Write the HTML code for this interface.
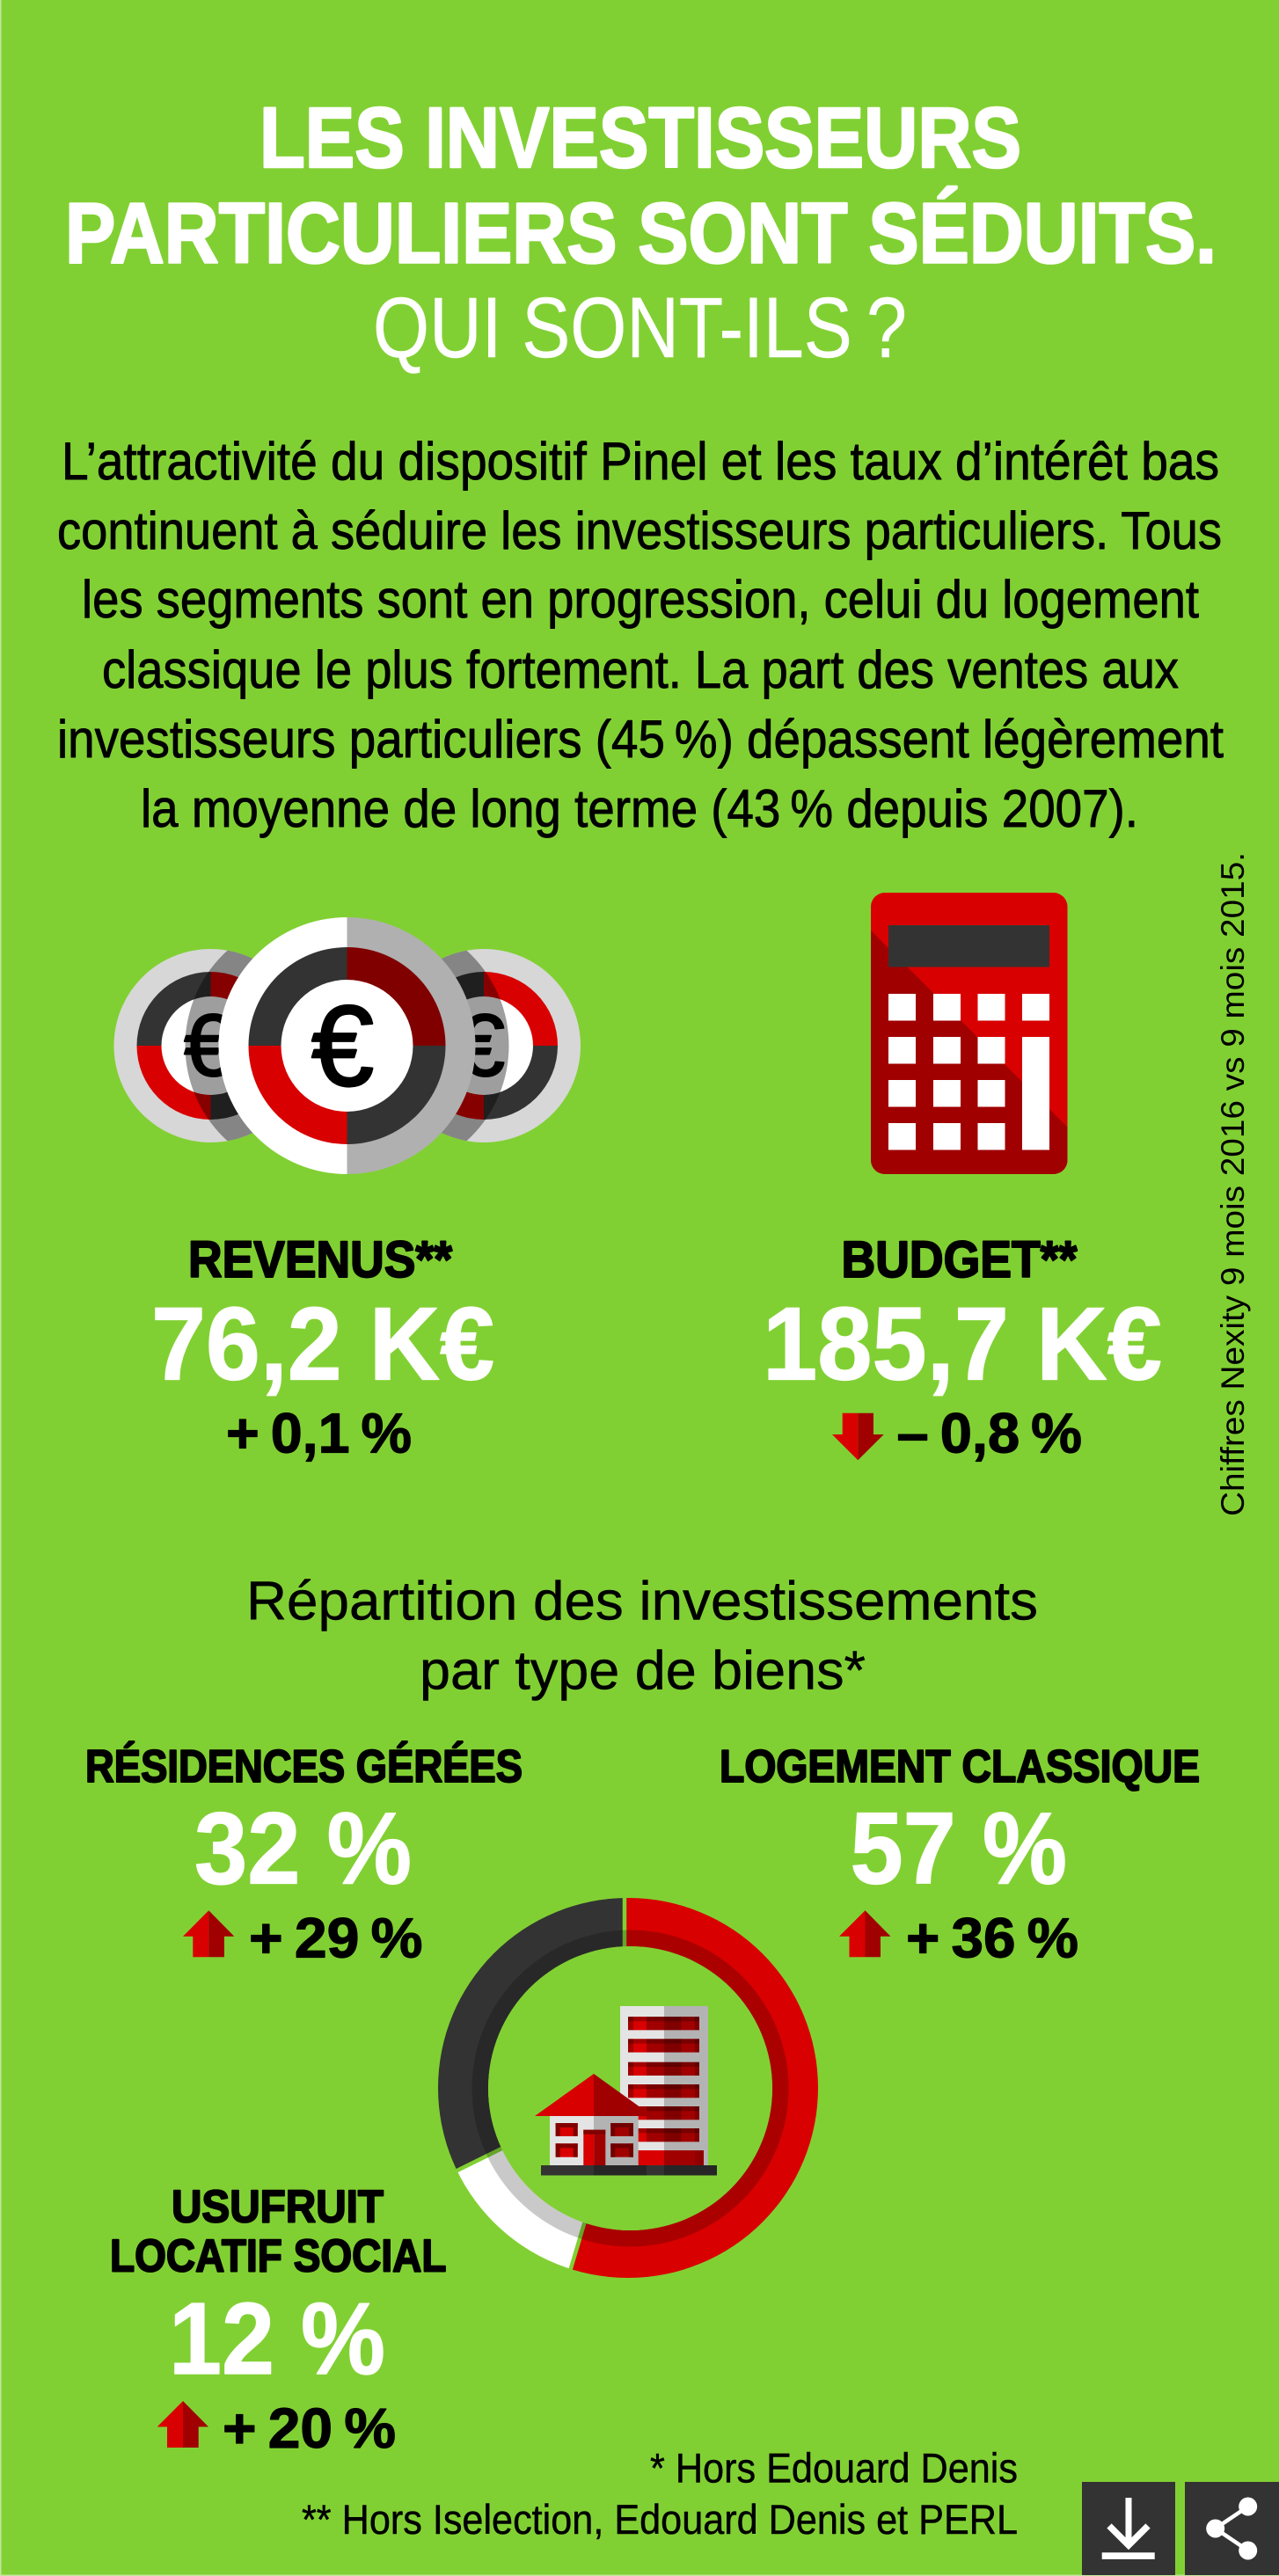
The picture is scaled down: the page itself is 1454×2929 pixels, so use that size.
<!DOCTYPE html>
<html lang="fr">
<head>
<meta charset="utf-8">
<title>Les investisseurs particuliers sont séduits</title>
<style>
html,body{margin:0;padding:0;background:#81d033;}
svg{display:block;}
text{font-family:"Liberation Sans","DejaVu Sans",sans-serif;stroke-linejoin:round;paint-order:stroke;}
.b{font-weight:700;}
.w{fill:#fff;stroke:#fff;}
.k{fill:#000;stroke:#000;}
.s0{stroke-width:.5px;}
.s1{stroke-width:1.2px;}
.s2{stroke-width:2px;}
.s3{stroke-width:2.6px;}
.s4{stroke-width:.9px;}
</style>
</head>
<body>
<svg xmlns="http://www.w3.org/2000/svg" width="1454" height="2929" viewBox="0 0 1454 2929">
<defs>
  <clipPath id="clip-left-coin"><circle cx="239.5" cy="1189" r="110"/></clipPath>
  <clipPath id="clip-right-coin"><circle cx="550" cy="1189" r="110"/></clipPath>
  <clipPath id="clip-calc"><rect x="990" y="1015" width="223.5" height="320" rx="16"/></clipPath>
  <g id="tower-row">
    <rect x="714" y="0" width="6" height="15.3" fill="#a00000"/>
    <rect x="720" y="0" width="15" height="15.3" fill="#d80000"/>
    <rect x="735" y="0" width="20" height="15.3" fill="#a00000"/>
    <rect x="755" y="0" width="19.5" height="15.3" fill="#800000"/>
    <rect x="774.5" y="0" width="15.5" height="15.3" fill="#a00000"/>
    <rect x="790" y="0" width="5" height="15.3" fill="#800000"/>
    <rect x="714" y="0" width="81" height="5.3" fill="#000" fill-opacity=".25"/>
  </g>
</defs>

<rect width="1454" height="2929" fill="#81d033"/>
<rect x="0" y="0" width="1.5" height="2929" fill="#c4e69c"/>
<rect x="0" y="2927.5" width="1454" height="1.5" fill="#c4e69c"/>

<!-- Title -->
<g>
  <text class="b w s3" x="295" y="190" font-size="97" textLength="866" lengthAdjust="spacingAndGlyphs">LES INVESTISSEURS</text>
  <text class="b w s3" x="74" y="298.5" font-size="97" textLength="1309" lengthAdjust="spacingAndGlyphs">PARTICULIERS SONT SÉDUITS.</text>
  <text class="w s0" x="424" y="406" font-size="97" textLength="607" lengthAdjust="spacingAndGlyphs">QUI SONT-ILS&#8201;?</text>
</g>

<!-- Intro -->
<g font-size="60">
  <text class="k s4" x="70" y="545" textLength="1316" lengthAdjust="spacingAndGlyphs">L’attractivité du dispositif Pinel et les taux d’intérêt bas</text>
  <text class="k s4" x="65" y="624" textLength="1324" lengthAdjust="spacingAndGlyphs">continuent à séduire les investisseurs particuliers. Tous</text>
  <text class="k s4" x="93" y="702" textLength="1270" lengthAdjust="spacingAndGlyphs">les segments sont en progression, celui du logement</text>
  <text class="k s4" x="116" y="782" textLength="1224" lengthAdjust="spacingAndGlyphs">classique le plus fortement. La part des ventes aux</text>
  <text class="k s4" x="65" y="861" textLength="1326" lengthAdjust="spacingAndGlyphs">investisseurs particuliers (45&#8201;%) dépassent légèrement</text>
  <text class="k s4" x="160" y="940" textLength="1134" lengthAdjust="spacingAndGlyphs">la moyenne de long terme (43&#8201;% depuis 2007).</text>
</g>

<!-- Source rotated -->
<text class="k" style="stroke-width:0" font-size="37" transform="translate(1414 1724) rotate(-90)" x="0" y="0" textLength="755" lengthAdjust="spacingAndGlyphs">Chiffres Nexity 9 mois 2016 vs 9 mois 2015.</text>

<!-- Coins icon -->
<g>
  <g>
    <circle cx="239.5" cy="1189" r="110" fill="#d7d7d7"/>
    <path d="M239.5 1189L155.5 1189A84 84 0 0 1 239.5 1105Z" fill="#333"/>
    <path d="M239.5 1189L239.5 1105A84 84 0 0 1 323.5 1189Z" fill="#d80000"/>
    <path d="M239.5 1189L323.5 1189A84 84 0 0 1 239.5 1273Z" fill="#333"/>
    <path d="M239.5 1189L239.5 1273A84 84 0 0 1 155.5 1189Z" fill="#d80000"/>
    <circle cx="239.5" cy="1189" r="56" fill="#fff"/>
    <text x="209" y="1223" font-size="100" textLength="56" lengthAdjust="spacingAndGlyphs" class="k s2">€</text>
    <circle cx="356.5" cy="1189" r="146" fill="#000" fill-opacity=".38" clip-path="url(#clip-left-coin)"/>
  </g>
  <g>
    <circle cx="550" cy="1189" r="110" fill="#d7d7d7"/>
    <path d="M550 1189L466 1189A84 84 0 0 1 550 1105Z" fill="#333"/>
    <path d="M550 1189L550 1105A84 84 0 0 1 634 1189Z" fill="#d80000"/>
    <path d="M550 1189L634 1189A84 84 0 0 1 550 1273Z" fill="#333"/>
    <path d="M550 1189L550 1273A84 84 0 0 1 466 1189Z" fill="#d80000"/>
    <circle cx="550" cy="1189" r="56" fill="#fff"/>
    <text x="518" y="1223" font-size="100" textLength="56" lengthAdjust="spacingAndGlyphs" class="k s2">€</text>
    <circle cx="432.5" cy="1189" r="146" fill="#000" fill-opacity=".38" clip-path="url(#clip-right-coin)"/>
  </g>
  <g>
    <path d="M394.5 1043A146 146 0 0 0 394.5 1335Z" fill="#fff"/>
    <path d="M394.5 1043A146 146 0 0 1 394.5 1335Z" fill="#b0b0b0"/>
    <path d="M394.5 1189L282.5 1189A112 112 0 0 1 394.5 1077Z" fill="#333"/>
    <path d="M394.5 1189L394.5 1077A112 112 0 0 1 506.5 1189Z" fill="#800000"/>
    <path d="M394.5 1189L506.5 1189A112 112 0 0 1 394.5 1301Z" fill="#333"/>
    <path d="M394.5 1189L394.5 1301A112 112 0 0 1 282.5 1189Z" fill="#d80000"/>
    <circle cx="394.5" cy="1189" r="75" fill="#fff"/>
    <text x="354" y="1234" font-size="130" textLength="71" lengthAdjust="spacingAndGlyphs" class="k s3">€</text>
  </g>
</g>

<!-- Calculator icon -->
<g>
  <rect x="990" y="1015" width="223.5" height="320" rx="16" fill="#d80000"/>
  <polygon points="990,1058 1213.5,1281.5 1213.5,1335 990,1335" fill="#a00000" clip-path="url(#clip-calc)"/>
  <rect x="1010" y="1052" width="183" height="47.5" fill="#333"/>
  <g fill="#fff">
    <rect x="1010" y="1130" width="31" height="30.5"/><rect x="1061" y="1130" width="31" height="30.5"/><rect x="1111.5" y="1130" width="31" height="30.5"/><rect x="1162" y="1130" width="31" height="30.5"/>
    <rect x="1010" y="1179" width="31" height="30.5"/><rect x="1061" y="1179" width="31" height="30.5"/><rect x="1111.5" y="1179" width="31" height="30.5"/>
    <rect x="1010" y="1228" width="31" height="30.5"/><rect x="1061" y="1228" width="31" height="30.5"/><rect x="1111.5" y="1228" width="31" height="30.5"/>
    <rect x="1010" y="1277" width="31" height="30.5"/><rect x="1061" y="1277" width="31" height="30.5"/><rect x="1111.5" y="1277" width="31" height="30.5"/>
    <rect x="1162" y="1179" width="31" height="128.5"/>
  </g>
</g>

<!-- KPIs -->
<text class="b k s2" x="214" y="1452" font-size="58" textLength="300" lengthAdjust="spacingAndGlyphs">REVENUS**</text>
<text class="b w s1" x="172" y="1568.5" font-size="118" textLength="390" lengthAdjust="spacingAndGlyphs">76,2 K€</text>
<text class="b k s1" x="257" y="1651.5" font-size="64" textLength="211" lengthAdjust="spacingAndGlyphs">+&#8201;0,1&#8201;%</text>

<text class="b k s2" x="956.5" y="1452" font-size="58" textLength="268" lengthAdjust="spacingAndGlyphs">BUDGET**</text>
<text class="b w s1" x="867" y="1568.5" font-size="118" textLength="454" lengthAdjust="spacingAndGlyphs">185,7 K€</text>
<text class="b k s1" x="1019.5" y="1651.5" font-size="64" textLength="210.5" lengthAdjust="spacingAndGlyphs">–&#8201;0,8&#8201;%</text>
<g>
  <polygon points="957.7,1606.7 975.3,1606.7 975.3,1660.3 946,1631 957.7,1631" fill="#d80000"/>
  <polygon points="975.3,1606.7 993,1606.7 993,1631 1004.7,1631 975.3,1660.3" fill="#a00000"/>
</g>

<!-- Section title -->
<text class="k s0" x="280" y="1841.5" font-size="62" textLength="900" lengthAdjust="spacingAndGlyphs">Répartition des investissements</text>
<text class="k s0" x="477" y="1920.5" font-size="62" textLength="507" lengthAdjust="spacingAndGlyphs">par type de biens*</text>

<!-- Segment labels -->
<text class="b k s2" x="97" y="2026" font-size="52" textLength="497" lengthAdjust="spacingAndGlyphs">RÉSIDENCES GÉRÉES</text>
<text class="b w s1" x="221" y="2141.5" font-size="116" textLength="247" lengthAdjust="spacingAndGlyphs">32 %</text>
<text class="b k s1" x="283" y="2225.5" font-size="64" textLength="197.5" lengthAdjust="spacingAndGlyphs">+&#8201;29&#8201;%</text>
<g>
  <polygon points="237.3,2172.3 237.3,2225.3 219.3,2225.3 219.3,2201.7 208,2201.7" fill="#d80000"/>
  <polygon points="237.3,2172.3 266.3,2201.7 255,2201.7 255,2225.3 237.3,2225.3" fill="#a00000"/>
</g>

<text class="b k s2" x="818" y="2026" font-size="52" textLength="546" lengthAdjust="spacingAndGlyphs">LOGEMENT CLASSIQUE</text>
<text class="b w s1" x="966.5" y="2141.5" font-size="116" textLength="246.5" lengthAdjust="spacingAndGlyphs">57 %</text>
<text class="b k s1" x="1030" y="2225.5" font-size="64" textLength="196" lengthAdjust="spacingAndGlyphs">+&#8201;36&#8201;%</text>
<g>
  <polygon points="983.5,2172.3 983.5,2225.3 965.5,2225.3 965.5,2201.7 954,2201.7" fill="#d80000"/>
  <polygon points="983.5,2172.3 1012.5,2201.7 1001,2201.7 1001,2225.3 983.5,2225.3" fill="#a00000"/>
</g>

<text class="b k s2" x="195" y="2526.5" font-size="52" textLength="241" lengthAdjust="spacingAndGlyphs">USUFRUIT</text>
<text class="b k s2" x="125" y="2582.5" font-size="52" textLength="382.5" lengthAdjust="spacingAndGlyphs">LOCATIF SOCIAL</text>
<text class="b w s1" x="192" y="2699" font-size="116" textLength="246" lengthAdjust="spacingAndGlyphs">12 %</text>
<text class="b k s1" x="253" y="2783" font-size="64" textLength="197" lengthAdjust="spacingAndGlyphs">+&#8201;20&#8201;%</text>
<g>
  <polygon points="208,2730 208,2783 190,2783 190,2759.4 178.7,2759.4" fill="#d80000"/>
  <polygon points="208,2730 237,2759.4 225.7,2759.4 225.7,2783 208,2783" fill="#a00000"/>
</g>

<!-- Donut -->
<g id="donut"></g>

<!-- Buildings icon -->
<g>
  <g>
    <rect x="705" y="2281" width="50" height="181" fill="#e4e4e4"/>
    <rect x="755" y="2281" width="50" height="181" fill="#b3b3b3"/>
    <use href="#tower-row" y="2293"/>
    <use href="#tower-row" y="2318.3"/>
    <use href="#tower-row" y="2344.7"/>
    <use href="#tower-row" y="2370"/>
    <use href="#tower-row" y="2395"/>
    <use href="#tower-row" y="2420"/>
    <rect x="705" y="2445" width="50" height="17" fill="#d80000"/>
    <rect x="755" y="2445" width="45" height="17" fill="#a00000"/>
    <rect x="790" y="2445" width="10" height="17" fill="#800000" fill-opacity=".5"/>
  </g>
  <g>
    <rect x="625" y="2406" width="50" height="56" fill="#e4e4e4"/>
    <rect x="675" y="2406" width="50.7" height="56" fill="#b3b3b3"/>
    <polygon points="675,2358 608,2406 675,2406" fill="#d80000"/>
    <polygon points="675,2358 741.7,2406 675,2406" fill="#a00000"/>
    <rect x="631.7" y="2414" width="25" height="15" fill="#d80000"/><rect x="631.7" y="2414" width="25" height="5" fill="#800000"/><rect x="631.7" y="2414" width="5" height="15" fill="#800000"/><rect x="651.7" y="2414" width="5" height="15" fill="#800000"/>
    <rect x="631.7" y="2437.3" width="25" height="15.4" fill="#d80000"/><rect x="631.7" y="2437.3" width="25" height="5" fill="#800000"/><rect x="631.7" y="2437.3" width="5" height="15.4" fill="#800000"/><rect x="651.7" y="2437.3" width="5" height="15.4" fill="#800000"/>
    <rect x="694.3" y="2414" width="25.7" height="15" fill="#a00000"/><rect x="694.3" y="2414" width="25.7" height="5" fill="#700000"/><rect x="694.3" y="2414" width="5" height="15" fill="#700000"/><rect x="715" y="2414" width="5" height="15" fill="#700000"/>
    <rect x="694.3" y="2437.3" width="25.7" height="15.4" fill="#a00000"/><rect x="694.3" y="2437.3" width="25.7" height="5" fill="#700000"/><rect x="694.3" y="2437.3" width="5" height="15.4" fill="#700000"/><rect x="715" y="2437.3" width="5" height="15.4" fill="#700000"/>
    <rect x="663.3" y="2421.7" width="12" height="40.3" fill="#d80000"/>
    <rect x="675.3" y="2421.7" width="13" height="40.3" fill="#a00000"/>
    <rect x="663.3" y="2421.7" width="25" height="5" fill="#800000"/>
  </g>
  <g>
    <rect x="615" y="2462" width="60" height="11.5" fill="#333"/>
    <rect x="675" y="2462" width="60" height="11.5" fill="#262626"/>
    <rect x="735" y="2462" width="20" height="11.5" fill="#333"/>
    <rect x="755" y="2462" width="60" height="11.5" fill="#262626"/>
  </g>
</g>

<!-- Footnotes -->
<text class="k s0" x="739" y="2822.5" font-size="47" textLength="418" lengthAdjust="spacingAndGlyphs">* Hors Edouard Denis</text>
<text class="k s0" x="343" y="2881" font-size="47" textLength="814" lengthAdjust="spacingAndGlyphs">** Hors Iselection, Edouard Denis et PERL</text>

<!-- Buttons -->
<g>
  <rect x="1230" y="2822" width="106" height="106" fill="#333"/>
  <rect x="1279.5" y="2840" width="7" height="54" fill="#fff"/>
  <polyline points="1261,2872 1283,2894 1305,2872" fill="none" stroke="#fff" stroke-width="7.5"/>
  <rect x="1252.7" y="2902.3" width="60" height="7.7" fill="#fff"/>
</g>
<g>
  <rect x="1347" y="2822" width="107" height="106" fill="#333"/>
  <polyline points="1418.7,2850 1381.7,2875 1418.7,2900" fill="none" stroke="#fff" stroke-width="4.5"/>
  <circle cx="1418.7" cy="2850" r="10.5" fill="#fff"/>
  <circle cx="1381.7" cy="2875" r="10.5" fill="#fff"/>
  <circle cx="1418.7" cy="2900" r="10.5" fill="#fff"/>
</g>

<script>
// Donut data (drawn share of the ring, clockwise from the top).
const donutCategories = ["Logement classique", "Usufruit locatif social", "Résidences gérées"];
const donutShares = [54.6, 13.1, 32.3];
const printedPercents = [57, 12, 32];
const printedChanges = [36, 20, 29];

const segmentFills = { "Logement classique": "#d80000", "Usufruit locatif social": "#ffffff", "Résidences gérées": "#333333" };

(function () {
  const NS = "http://www.w3.org/2000/svg";
  const root = document.getElementById("donut");
  const pivot = { x: 710, y: 2374 };
  const ringPath = "M498 2374a216 216 0 1 0 432 0a216 216 0 1 0 -432 0Z" +
                   "M555 2374.5a161.5 161.5 0 1 0 323 0a161.5 161.5 0 1 0 -323 0Z";
  const shadePath = "M536.5 2374.5a180 180 0 1 0 360 0a180 180 0 1 0 -360 0Z" +
                    "M555 2374.5a161.5 161.5 0 1 0 323 0a161.5 161.5 0 1 0 -323 0Z";
  const total = donutShares.reduce(function (a, b) { return a + b; }, 0);
  function angleOf(share) { return share / total * 2 * Math.PI; }
  function pointAt(angle, radius) {
    return { x: pivot.x + radius * Math.sin(angle), y: pivot.y - radius * Math.cos(angle) };
  }
  const defs = document.createElementNS(NS, "defs");
  root.appendChild(defs);

  let cumulative = 0;
  const boundaries = [];
  donutShares.forEach(function (share, i) {
    const a0 = angleOf(cumulative);
    const a1 = angleOf(cumulative + share);
    const pts = [pivot.x + "," + pivot.y];
    const steps = Math.max(2, Math.ceil((a1 - a0) / 0.05));
    for (let s = 0; s <= steps; s++) {
      const p = pointAt(a0 + (a1 - a0) * s / steps, 450);
      pts.push(p.x + "," + p.y);
    }
    const clip = document.createElementNS(NS, "clipPath");
    clip.setAttribute("id", "donut-wedge-" + i);
    const poly = document.createElementNS(NS, "polygon");
    poly.setAttribute("points", pts.join(" "));
    clip.appendChild(poly);
    defs.appendChild(clip);

    const seg = document.createElementNS(NS, "path");
    seg.setAttribute("d", ringPath);
    seg.setAttribute("fill-rule", "evenodd");
    seg.setAttribute("fill", segmentFills[donutCategories[i]]);
    seg.setAttribute("clip-path", "url(#donut-wedge-" + i + ")");
    
    
    root.appendChild(seg);

    boundaries.push(a0);
    cumulative += share;
  });

  boundaries.forEach(function (angle) {
    const inner = pointAt(angle, 130);
    const outer = pointAt(angle, 240);
    const gap = document.createElementNS(NS, "line");
    gap.setAttribute("x1", inner.x);
    gap.setAttribute("y1", inner.y);
    gap.setAttribute("x2", outer.x);
    gap.setAttribute("y2", outer.y);
    gap.setAttribute("stroke", "#81d033");
    gap.setAttribute("stroke-width", "4.5");
    
    
    root.appendChild(gap);
  });

  const shade = document.createElementNS(NS, "path");
  shade.setAttribute("d", shadePath);
  shade.setAttribute("fill-rule", "evenodd");
  shade.setAttribute("fill", "#000");
  shade.setAttribute("fill-opacity", "0.21");
  
  
  root.appendChild(shade);

  const holeMask = document.createElementNS(NS, "circle");
  holeMask.setAttribute("cx", "716.5");
  holeMask.setAttribute("cy", "2374.5");
  holeMask.setAttribute("r", "161.5");
  holeMask.setAttribute("fill", "#81d033");
  
  
  root.appendChild(holeMask);
})();
</script>
</svg>
</body>
</html>
